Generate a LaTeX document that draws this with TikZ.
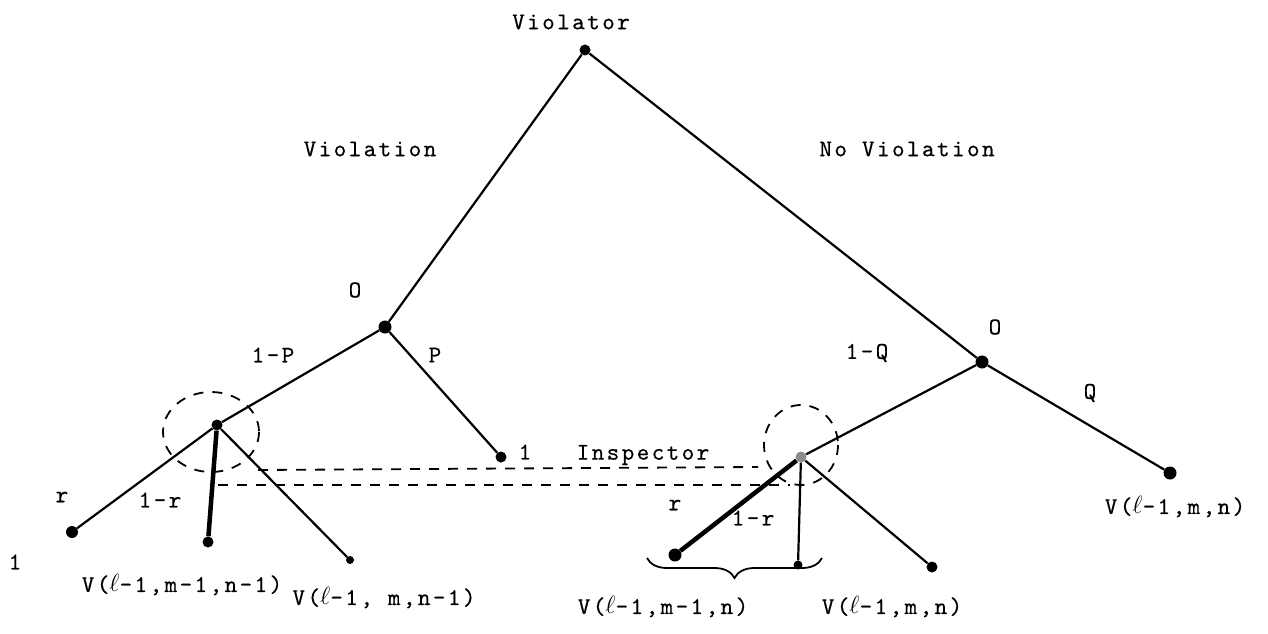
\documentclass[tikz,border=0pt]{standalone}
\usepackage{fontspec}
\usepackage{tikz}
\usetikzlibrary{decorations.pathreplacing}
\newfontfamily\tw{lmmono10-regular.otf}[LetterSpace=10, FakeBold=0.4]

\begin{document}
\begin{tikzpicture}[x=1pt, y=-1pt, every node/.style={font=\tw\fontsize{24}{27}\selectfont, inner sep=0pt}]
    \tikzset{dot/.style={circle, fill=black, minimum size=11pt},
             branch/.style={line width=2.2pt},
             heavy/.style={line width=4.5pt},
             infoset/.style={line width=1.8pt, dash pattern=on 10pt off 9pt}}
    \useasboundingbox (0,0) rectangle (1268,634);
    % decision and chance nodes
    \node[dot] (root) at (585,50) {};
    \node[dot, minimum size=13pt] (chanceL) at (385,327) {};
    \node[dot, minimum size=13pt] (chanceR) at (982,362) {};
    \node[dot] (inspL) at (217,425) {};
    \node[dot, fill=black!45] (inspR) at (801,457) {};
    % end points
    \node[dot] (leafP) at (501,457) {};
    \node[dot, minimum size=13pt] (leafQ) at (1170,473) {};
    \node[dot, minimum size=12pt] (leafLr) at (72,532) {};
    \node[dot] (leafLm) at (208,542) {};
    \node[dot, minimum size=8pt] (leafLs) at (350,560) {};
    \node[dot, minimum size=13pt] (leafRr) at (675,555) {};
    \node[dot, minimum size=9pt] (leafRm) at (798,565) {};
    \node[dot] (leafRs) at (932,567) {};
    % labels
    \node (violator) at (571,22) {Violator};
    \node (violation) at (370,149) {Violation};
    \node (noviolation) at (907,149) {No Violation};
    \node (oL) at (355,290) {O};
    \node (oR) at (995,327) {O};
    \node (oneminusP) at (273,355) {1-P};
    \node (probP) at (435,355) {P};
    \node (oneminusQ) at (867,353) {1-Q};
    \node (probQ) at (1090,393) {Q};
    \node (payP) at (525,452) {1};
    \node (inspector) at (643,455) {Inspector};
    \node (rL) at (62,497) {r};
    \node (oneminusrL) at (160,500) {1-r};
    \node (payLr) at (15,562) {1};
    \node (payLm) at (182,585) {V($\ell$-1,m-1,n-1)};
    \node (payLs) at (384,598) {V($\ell$-1, m,n-1)};
    \node (rR) at (675,505) {r};
    \node (oneminusrR) at (753,518) {1-r};
    \node (payRm) at (663,607) {V($\ell$-1,m-1,n)};
    \node (payRs) at (892,607) {V($\ell$-1,m,n)};
    \node (payQ) at (1175,507) {V($\ell$-1,m,n)};
    % branches
    \draw[branch] (root) -- (chanceL);
    \draw[branch] (root) -- (chanceR);
    \draw[branch] (chanceL) -- (inspL);
    \draw[branch] (chanceL) -- (leafP);
    \draw[branch] (chanceR) -- (inspR);
    \draw[branch] (chanceR) -- (leafQ);
    \draw[branch] (inspL) -- (leafLr);
    \draw[heavy] (inspL) -- (leafLm);
    \draw[branch] (inspL) -- (leafLs);
    \draw[heavy] (inspR) -- (leafRr);
    \draw[branch] (inspR) -- (leafRm);
    \draw[branch] (inspR) -- (leafRs);
    % information set
    \draw[infoset] (211,432) ellipse [x radius=48, y radius=40];
    \draw[infoset] (801,445) ellipse [x radius=37, y radius=40];
    \coordinate (setA1) at (258,470);
    \coordinate (setA2) at (758,467);
    \coordinate (setB1) at (218,485);
    \coordinate (setB2) at (790,485);
    \draw[infoset] (setA1) -- (setA2);
    \draw[infoset] (setB1) -- (setB2);
    % brace
    \draw[decorate, decoration={brace, mirror, amplitude=20pt}, line width=1.8pt] (647,558) -- (822,558);
\end{tikzpicture}
\end{document}
